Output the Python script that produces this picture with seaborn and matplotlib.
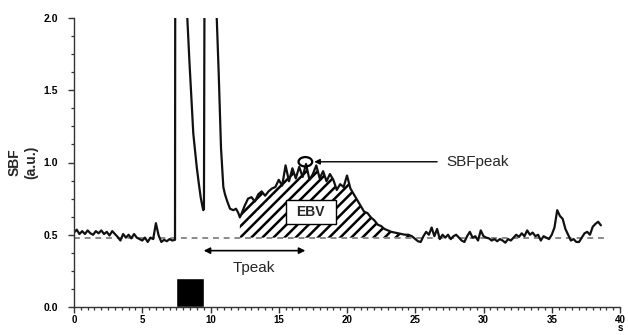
import numpy as np
import pandas as pd
import seaborn as sns
import matplotlib.pyplot as plt
from matplotlib.patches import Ellipse, Rectangle
from matplotlib.ticker import MultipleLocator, FuncFormatter

# Data
# pre-stimulus baseline, sampled every 0.2 s from 0 s
pre_sbf = [0.515, 0.535, 0.505, 0.525, 0.505, 0.53, 0.51, 0.50, 0.525, 0.51,
           0.53, 0.505, 0.52, 0.495, 0.525, 0.505, 0.485, 0.46, 0.505, 0.48,
           0.50, 0.475, 0.505, 0.48, 0.47, 0.46, 0.48, 0.45, 0.48, 0.47,
           0.58, 0.495, 0.45, 0.465, 0.455, 0.47, 0.46, 0.465]

# stimulation artefact (goes off scale above 2.0)
artefact_t = [7.42, 7.9, 8.25, 8.45, 8.6, 8.74, 8.9, 8.99, 9.15, 9.28, 9.4, 9.47,
              9.52, 9.57, 10.1, 10.42, 10.6, 10.77, 10.94, 11.06, 11.23, 11.43,
              11.67, 11.87, 12.04, 12.15]
artefact_sbf = [2.6, 2.8, 2.1, 1.71, 1.45, 1.2, 1.05, 0.97, 0.85, 0.76, 0.70, 0.67,
                0.68, 2.6, 2.9, 2.1, 1.62, 1.1, 0.83, 0.78, 0.73, 0.68,
                0.67, 0.68, 0.65, 0.62]

# evoked response, sampled every 0.25 s from 12.25 s
resp_sbf = [0.64, 0.70, 0.75, 0.76, 0.73, 0.78, 0.80, 0.77, 0.80, 0.82,
            0.83, 0.88, 0.84, 0.98, 0.87, 0.96, 0.89, 0.97, 0.90, 0.99,
            0.88, 0.92, 0.98, 0.89, 0.94, 0.87, 0.92, 0.88, 0.81, 0.85,
            0.83, 0.91, 0.82, 0.78, 0.74, 0.70, 0.66, 0.65, 0.62, 0.60,
            0.57, 0.56, 0.54, 0.53, 0.52, 0.515, 0.51, 0.505, 0.50, 0.50,
            0.49, 0.47]

# post-response baseline, sampled every 0.2 s from 25.2 s
post_sbf = [0.455, 0.45, 0.49, 0.52, 0.50, 0.55, 0.49, 0.54, 0.47, 0.50,
            0.48, 0.50, 0.47, 0.49, 0.50, 0.48, 0.46, 0.45, 0.49, 0.52,
            0.48, 0.49, 0.46, 0.53, 0.49, 0.48, 0.475, 0.46, 0.47, 0.455,
            0.47, 0.46, 0.445, 0.47, 0.46, 0.48, 0.50, 0.485, 0.51, 0.49,
            0.53, 0.50, 0.515, 0.49, 0.50, 0.46, 0.49, 0.48, 0.47, 0.50,
            0.55, 0.67, 0.63, 0.61, 0.54, 0.50, 0.46, 0.47, 0.45, 0.45,
            0.48, 0.51, 0.52, 0.50, 0.555, 0.575, 0.59, 0.565]

baseline = 0.48
baseline_end = 38.9
ebv_start, ebv_end = 12.15, 25.2
stim_start, stim_end, stim_height = 7.5, 9.5, 0.2
t_onset, t_peak, sbf_peak = 9.5, 16.95, 1.005

t = np.concatenate([
    0.2 * np.arange(len(pre_sbf)),
    artefact_t,
    12.25 + 0.25 * np.arange(len(resp_sbf)),
    25.2 + 0.2 * np.arange(len(post_sbf)),
])
sbf = np.concatenate([pre_sbf, artefact_sbf, resp_sbf, post_sbf])
df = pd.DataFrame({'t': t, 'sbf': sbf})

sns.set_style('ticks')
plt.rcParams['font.family'] = ['Liberation Sans', 'DejaVu Sans']
plt.rcParams['hatch.linewidth'] = 1.8

fig = plt.figure(figsize=(6.28, 3.35), dpi=100)
ax = fig.add_axes([74 / 628, 28 / 335, 546 / 628, 289 / 335])

# hatched EBV area
mask = (df.t >= ebv_start) & (df.t <= ebv_end) & (df.sbf > baseline)
ax.fill_between(df.t, baseline, df.sbf, where=mask, interpolate=True,
                facecolor='none', edgecolor='black', hatch='///', linewidth=0)

# dashed baseline
ax.hlines(baseline, 0, baseline_end, colors='#8a8a8a', linestyles=(0, (3, 2.5)), lw=1.4)

# stimulation bar
ax.bar(stim_start, stim_height, width=stim_end - stim_start, align='edge', color='black')

sns.lineplot(data=df, x='t', y='sbf', color='#111111', lw=1.6,
             estimator=None, sort=False, ax=ax)

# EBV label box
ax.add_patch(Rectangle((15.53, 0.573), 3.64, 0.166, facecolor='white',
                       edgecolor='black', lw=1.0, zorder=5))
ax.text(17.35, 0.656, 'EBV', ha='center', va='center', fontsize=10,
        fontweight='bold', zorder=6)

# Tpeak arrow
ax.annotate('', xy=(t_onset, 0.39), xytext=(t_peak, 0.39),
            arrowprops=dict(arrowstyle='<|-|>', color='black', lw=1.2,
                            mutation_scale=9, shrinkA=0, shrinkB=0))
ax.text(13.2, 0.27, 'Tpeak', ha='center', va='center', fontsize=11)

# SBFpeak marker and arrow
ax.add_patch(Ellipse((t_peak, sbf_peak), 1.0, 0.065, facecolor='none',
                     edgecolor='black', lw=1.6, zorder=6))
ax.annotate('', xy=(17.6, sbf_peak), xytext=(26.6, sbf_peak),
            arrowprops=dict(arrowstyle='-|>', color='black', lw=1.0,
                            mutation_scale=8, shrinkA=0, shrinkB=0))
ax.text(27.3, sbf_peak, 'SBFpeak', ha='left', va='center', fontsize=11)

ax.set_xlim(0, 40)
ax.set_ylim(0, 2.0)
ax.xaxis.set_major_locator(MultipleLocator(5))
ax.xaxis.set_minor_locator(MultipleLocator(0.5))
ax.yaxis.set_major_locator(MultipleLocator(0.5))
ax.yaxis.set_minor_locator(MultipleLocator(0.125))
ax.yaxis.set_major_formatter(plt.FormatStrFormatter('%.1f'))
# unit "s" sits under the last x tick label
ax.xaxis.set_major_formatter(FuncFormatter(lambda v, pos: '40\ns' if v == 40 else f'{v:.0f}'))
ax.tick_params(which='major', length=4.5, width=1.0, colors='#333333', labelsize=7.5, pad=3)
ax.tick_params(which='minor', length=2.5, width=0.9, colors='#333333')
ax.tick_params(axis='y', which='major', pad=7)
ax.tick_params(axis='x', which='major', length=4, pad=1.5, labelsize=7)
for lab in ax.get_xticklabels() + ax.get_yticklabels():
    lab.set_fontweight('bold')
    lab.set_color('black')
    lab.set_linespacing(0.85)
for s in ['left', 'bottom']:
    ax.spines[s].set_linewidth(1.0)
    ax.spines[s].set_color('#333333')
sns.despine(ax=ax)

ax.set_xlabel('')
ax.set_ylabel('SBF\n(a.u.)', fontsize=10, fontweight='bold', labelpad=4)

fig.savefig('out.png', dpi=100)
